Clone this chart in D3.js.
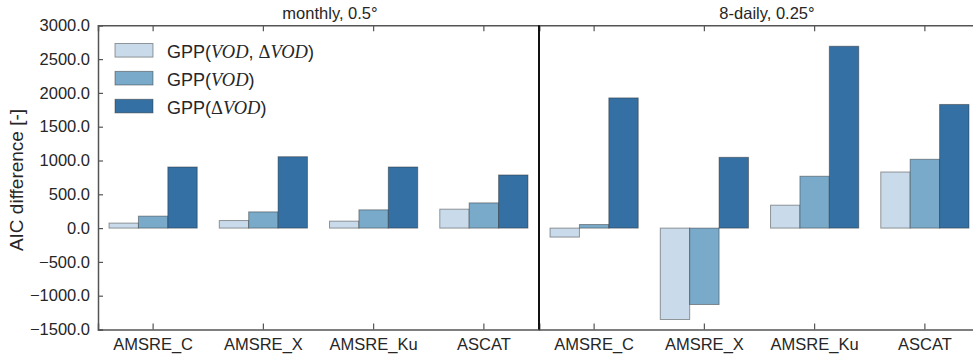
<!DOCTYPE html>
<html>
<head>
<meta charset="utf-8">
<script src="https://cdn.jsdelivr.net/npm/d3@7"></script>
<style>
  body { margin: 0; background: #fff; }
  svg { display: block; }
  text { font-family: "Liberation Sans", Arial, sans-serif; fill: #262626; }
</style>
</head>
<body>
<svg id="chart" width="973" height="358"></svg>
<script>
// Categories (sensors) and AIC differences per model variant
const categories = ["AMSRE_C", "AMSRE_X", "AMSRE_Ku", "ASCAT"];
const seriesNames = ["both", "vod", "dvod"];

const monthlyBoth = [74, 112, 103, 280];
const monthlyVod  = [177, 240, 270, 373];
const monthlyDvod = [904, 1056, 904, 786];

const dailyBoth = [-133, -1352, 339, 830];
const dailyVod  = [53, -1130, 767, 1018];
const dailyDvod = [1926, 1047, 2690, 1829];

const yTicks = [-1500, -1000, -500, 0, 500, 1000, 1500, 2000, 2500, 3000];
const panelTitles = ["monthly, 0.5°", "8-daily, 0.25°"];

const colors = { both: "#c9dbea", vod: "#79aac9", dvod: "#3470a3" };

const svg = d3.select("#chart");
const plotTop = 25.3, plotBottom = 329.5;
const leftX = 98, midX = 539, rightX = 980;
const axisColor = "#555555";

const y = d3.scaleLinear().domain([-1500, 3000]).range([plotBottom, plotTop]);

const panels = [
  { x0: leftX, x1: midX, title: panelTitles[0], titleX: 330,
    data: { both: monthlyBoth, vod: monthlyVod, dvod: monthlyDvod } },
  { x0: midX, x1: rightX, title: panelTitles[1], titleX: 767,
    data: { both: dailyBoth, vod: dailyVod, dvod: dailyDvod } }
];

panels.forEach((p) => {
  const x = d3.scaleBand().domain(categories).range([p.x0, p.x1])
    .paddingInner(0.2).paddingOuter(0.1);
  const xs = d3.scaleBand().domain(seriesNames).range([0, x.bandwidth()]).padding(0);

  const g = svg.append("g");
  categories.forEach((c, ci) => {
    seriesNames.forEach(s => {
      const v = p.data[s][ci];
      g.append("rect")
        .attr("x", x(c) + xs(s))
        .attr("width", xs.bandwidth())
        .attr("y", y(Math.max(0, v)))
        .attr("height", Math.abs(y(v) - y(0)))
        .attr("fill", colors[s])
        .attr("stroke", "rgba(40,40,40,0.45)")
        .attr("stroke-width", 1);
    });
  });

  // bottom axis: ticks point inward
  const xb = svg.append("g").attr("transform", `translate(0,${plotBottom})`)
    .call(d3.axisBottom(x).tickSize(-6).tickPadding(9));
  // top axis: ticks only
  const xt = svg.append("g").attr("transform", `translate(0,${plotTop})`)
    .call(d3.axisTop(x).tickSize(-6).tickFormat(""));
  [xb, xt].forEach(a => {
    a.select(".domain").attr("stroke", axisColor).attr("stroke-width", 1.5);
    a.selectAll(".tick line").attr("stroke", axisColor).attr("stroke-width", 1.2);
    a.selectAll(".tick text").style("font-size", "16.5px").attr("fill", "#262626")
      .style("font-family", "Liberation Sans, Arial, sans-serif");
  });

  svg.append("text")
    .attr("x", p.titleX).attr("y", 19)
    .attr("text-anchor", "middle")
    .style("font-size", "16.5px")
    .text(p.title);
});

// left y axis with inward ticks
const ya = svg.append("g").attr("transform", `translate(${leftX},0)`)
  .call(d3.axisLeft(y).tickValues(yTicks).tickFormat(d3.format(".1f"))
    .tickSize(-5).tickPadding(8));
ya.select(".domain").attr("stroke", axisColor).attr("stroke-width", 1.5);
ya.selectAll(".tick line").attr("stroke", axisColor).attr("stroke-width", 1.2);
ya.selectAll(".tick text").style("font-size", "16.5px").attr("fill", "#262626")
  .style("font-family", "Liberation Sans, Arial, sans-serif");

// divider between the two panels
svg.append("line")
  .attr("x1", midX).attr("x2", midX).attr("y1", plotTop).attr("y2", plotBottom)
  .attr("stroke", "#111").attr("stroke-width", 2);

// y label
svg.append("text")
  .attr("transform", `translate(23,180) rotate(-90)`)
  .attr("text-anchor", "middle")
  .style("font-size", "19px")
  .text("AIC difference [-]");

// legend
const legendItems = [
  { key: "both", parts: [["GPP(", "s"], ["VOD", "m"], [", ", "s"], ["Δ", "g"], ["VOD", "m"], [")", "s"]] },
  { key: "vod",  parts: [["GPP(", "s"], ["VOD", "m"], [")", "s"]] },
  { key: "dvod", parts: [["GPP(", "s"], ["Δ", "g"], ["VOD", "m"], [")", "s"]] }
];
const lg = svg.append("g");
legendItems.forEach((it, i) => {
  const cy = 50.3 + i * 27.9;
  lg.append("rect")
    .attr("x", 115).attr("y", cy - 6.8).attr("width", 38).attr("height", 13.6)
    .attr("fill", colors[it.key])
    .attr("stroke", "rgba(40,40,40,0.45)").attr("stroke-width", 1);
  const t = lg.append("text").attr("x", 167).attr("y", cy + 7.5)
    .style("font-size", "18px");
  it.parts.forEach(([txt, kind]) => {
    const ts = t.append("tspan").text(txt);
    if (kind === "m") {
      ts.style("font-family", "Liberation Serif, serif")
        .style("font-style", "italic").style("font-size", "18.5px");
    } else if (kind === "g") {
      ts.style("font-family", "Liberation Serif, serif")
        .style("font-size", "18.5px");
    }
  });
});
</script>
</body>
</html>
